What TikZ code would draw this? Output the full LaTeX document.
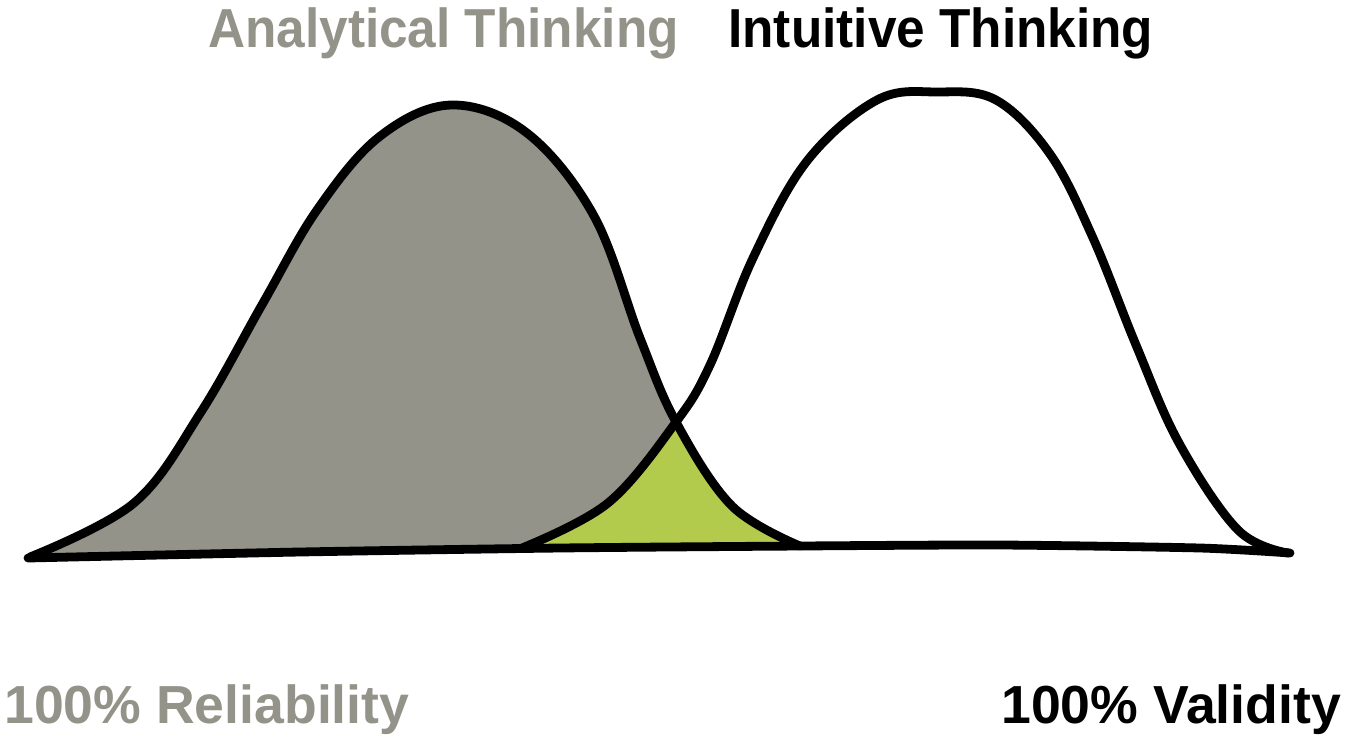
\documentclass[tikz,border=0pt]{standalone}
\usepackage{fontspec}
\setmainfont{Liberation Sans}
\definecolor{ashgray}{RGB}{147,147,137}
\definecolor{overlapgreen}{RGB}{179,203,77}
\begin{document}
\begin{tikzpicture}[x=0.75pt,y=-0.75pt,
  curve/.style={line width=6.6pt,line join=round,line cap=round,black},
  label/.style={inner sep=0pt,anchor=base west,font=\fontsize{40.2}{46}\selectfont\bfseries},
  toplabel/.style={inner sep=0pt,anchor=base west,font=\fontsize{38.5}{45}\selectfont\bfseries,yscale=1.07}]
\useasboundingbox (0,0) rectangle (1345,736);
\def\leftpts{(30,557) (134,503) (201,412) (263,303) (317,210) (379,137) (451,105) (527,133) (594,216) (640,338) (676,422) (732,506) (800,546)}
\def\rightpts{(522,548) (608,503) (676,422) (710,365) (753,258) (807,161) (877,100) (937,92) (996,100) (1050,154) (1093,238) (1136,345) (1179,443) (1238,530) (1288,553)}
% gray area
\fill[ashgray] plot[smooth,tension=0.6] coordinates {\leftpts} -- (560,548) -- (300,552) -- cycle;
% green overlap
\begin{scope}
  \clip plot[smooth,tension=0.6] coordinates {\leftpts} -- (560,548) -- (300,552) -- cycle;
  \fill[overlapgreen] plot[smooth,tension=0.6] coordinates {\rightpts} -- (1000,545) -- (800,546) -- cycle;
\end{scope}
% outlines
\draw[curve] plot[smooth,tension=0.6] coordinates {\leftpts};
\draw[curve] plot[smooth,tension=0.6] coordinates {\rightpts};
\draw[curve] plot[smooth,tension=0.4] coordinates {(28,558) (300,552) (560,548) (800,546) (1000,545) (1200,548) (1290,553)};
% labels
\node[toplabel,text=ashgray] (analytical) at (208,47) {Analytical Thinking};
\node[toplabel,text=black] (intuitive) at (728,47) {Intuitive Thinking};
\node[label,text=ashgray] (reliability) at (4,723) {100\% Reliability};
\node[label,text=black] (validity) at (1001,723) {100\% Validity};
\end{tikzpicture}
\end{document}
